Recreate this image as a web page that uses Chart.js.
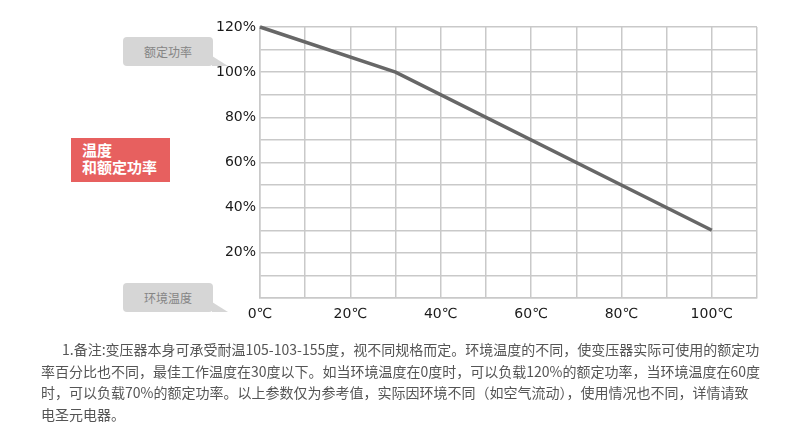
<!DOCTYPE html>
<html>
<head>
<meta charset="utf-8">
<script src="https://cdn.jsdelivr.net/npm/chart.js@4.4.1/dist/chart.umd.min.js"></script>
<style>
  body { margin: 0; background: #fff; }
  #wrap { position: relative; width: 790px; height: 429px; overflow: hidden; }
  #chart { position: absolute; left: 0; top: 0; }
  .tag {
    position: absolute; left: 123px; width: 90px; height: 29px;
    background: #d6d6d6; border-radius: 4px; color: #858585;
    font: 12px "Noto Sans CJK SC", sans-serif; line-height: 29px; text-align: center;
  }
  .tag:after {
    content: ""; position: absolute; left: 89px; bottom: 0;
    border-style: solid; border-width: 10px 0 0 16px;
    border-color: transparent transparent transparent #d6d6d6;
  }
  #redTag {
    position: absolute; left: 71px; top: 138px; width: 99px; height: 44px; padding-left: 11px;
    background: #e7605f; color: #fff; font: bold 15px "Noto Sans CJK SC", sans-serif;
    line-height: 16.5px; padding-top: 4px; box-sizing: border-box;
  }
  #note {
    position: absolute; left: 41px; top: 339px; white-space: nowrap;
    font: 14px "Noto Sans CJK SC", sans-serif; color: #555; line-height: 21.5px;
  }
</style>
</head>
<body>
<div id="wrap">
  <canvas id="chart" width="790" height="429"></canvas>
  <div class="tag" style="top:37px">额定功率</div>
  <div class="tag" style="top:283px">环境温度</div>
  <div id="redTag">温度<br>和额定功率</div>
  <div id="note">
    <span style="padding-left:21px">1.备注:变压器本身可承受耐温105-103-155度，视不同规格而定。环境温度的不同，使变压器实际可使用的额定功</span><br>
    率百分比也不同，最佳工作温度在30度以下。如当环境温度在0度时，可以负载120%的额定功率，当环境温度在60度<br>
    时，可以负载70%的额定功率。以上参数仅为参考值，实际因环境不同（如空气流动），使用情况也不同，详情请致<br>
    电圣元电器。
  </div>
</div>
<script>
// temperature (℃) vs rated power (%)
const temps = [0, 30, 100];
const ratedPower = [120, 100, 30];
const tempTickLabels = ['0℃', '20℃', '40℃', '60℃', '80℃', '100℃'];
const powerTickLabels = ['20%', '40%', '60%', '80%', '100%', '120%'];

const gridColor = '#c9c9c9';
const tickFont = { family: 'DejaVu Sans', size: 14 };

const ctx = document.getElementById('chart').getContext('2d');
new Chart(ctx, {
    type: 'line',
    data: {
        datasets: [{
            data: temps.map((t, i) => ({ x: t, y: ratedPower[i] })),
            borderColor: '#676767',
            borderWidth: 3.5,
            pointRadius: 0,
            tension: 0,
            clip: false
        }]
    },
    options: {
        responsive: false,
        animation: false,
        layout: { padding: { top: 27, right: 33, left: 0, bottom: 0 } },
        plugins: { legend: { display: false }, tooltip: { enabled: false } },
        scales: {
            x: {
                type: 'linear', min: 0, max: 110,
                afterFit: function(scale) { scale.height = 131; },
                grid: { color: gridColor, lineWidth: 1.5, drawTicks: false },
                border: { color: gridColor, width: 1.5 },
                ticks: {
                    stepSize: 10, autoSkip: false, maxRotation: 0, padding: 8,
                    color: '#1a1a1a', font: tickFont,
                    callback: function(v) { return v % 20 === 0 ? (tempTickLabels[v / 20] || '') : ''; }
                }
            },
            y: {
                min: 0, max: 120,
                afterFit: function(scale) { scale.width = 260; },
                grid: { color: gridColor, lineWidth: 1.5, drawTicks: false },
                border: { color: gridColor, width: 1.5 },
                ticks: {
                    stepSize: 10, autoSkip: false, padding: 4,
                    color: '#1a1a1a', font: tickFont,
                    callback: function(v) { return (v % 20 === 0 && v > 0) ? powerTickLabels[v / 20 - 1] : ''; }
                }
            }
        }
    }
});
</script>
</body>
</html>
